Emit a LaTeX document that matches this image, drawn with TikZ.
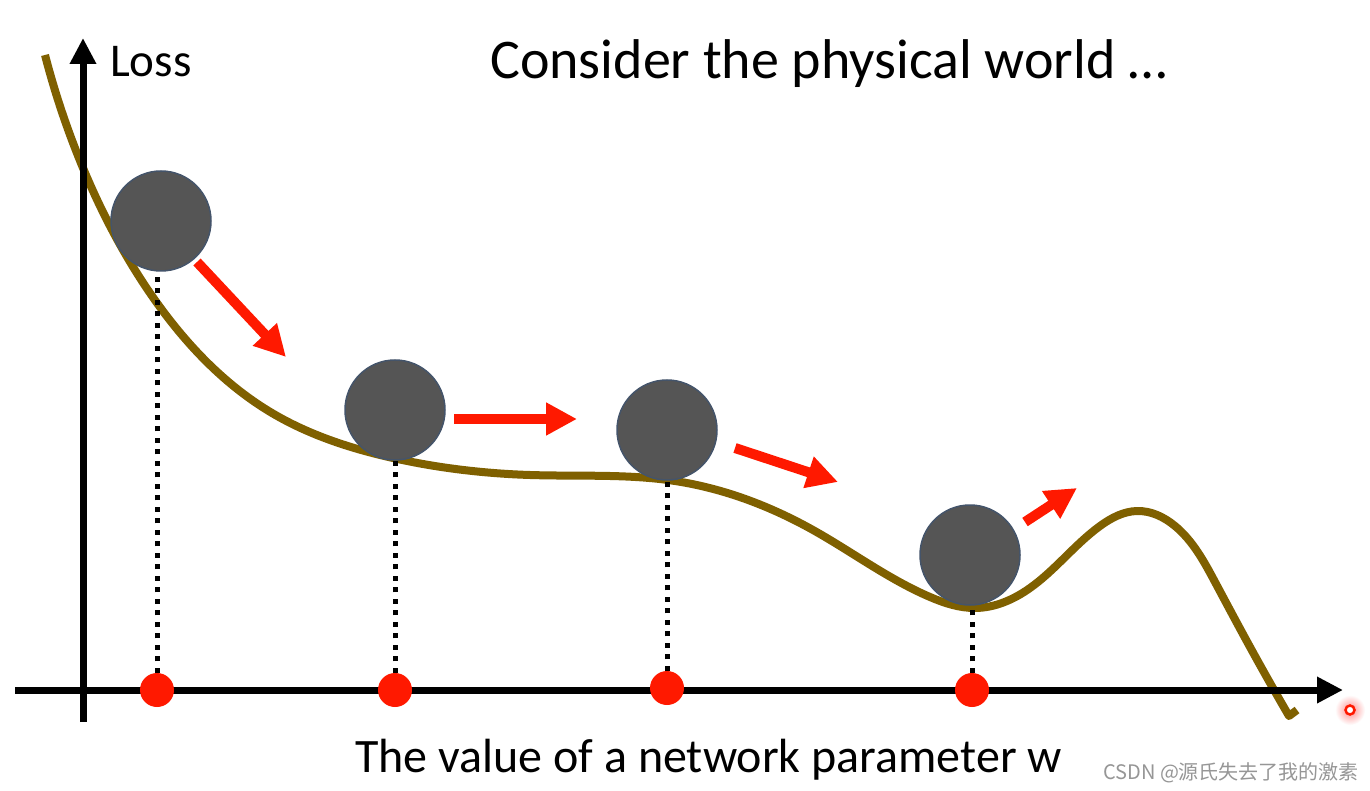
\documentclass[tikz,border=0pt]{standalone}
\usepackage{fontspec}
\setmainfont{Carlito}
\newfontfamily\cjk{Noto Sans CJK SC}
\usetikzlibrary{arrows.meta,hobby}
\definecolor{curvebrown}{RGB}{127,96,0}
\definecolor{arrowred}{RGB}{255,25,0}
\definecolor{ballfill}{RGB}{85,85,85}
\definecolor{ballline}{RGB}{68,84,106}
\definecolor{wmgray}{RGB}{150,150,150}
\tikzset{
  axisline/.style={line width=7pt, black, -{Triangle[length=26pt,width=25pt]}},
  lossline/.style={line width=8pt, curvebrown, line join=round},
  ball/.style={circle, fill=ballfill, draw=ballline, line width=1.5pt, minimum size=100pt, inner sep=0pt},
  reddot/.style={circle, fill=arrowred, minimum size=34pt, inner sep=0pt},
  dropline/.style={line width=5pt, black, dash pattern=on 5pt off 6.5pt},
  movearrow/.style={line width=10pt, arrowred, -{Triangle[length=31pt,width=31pt]}},
  bigtext/.style={anchor=base west, inner sep=0pt, font=\fontsize{47.5}{57}\selectfont},
}
\begin{document}
\begin{tikzpicture}[x=1pt,y=-1pt]
\useasboundingbox (0,0) rectangle (1370,791);
\fill[white] (0,0) rectangle (1370,791);
% loss curve
\draw[lossline, use Hobby shortcut] (45,55) .. (83,168) .. (157,303) .. (272,413) .. (393,458)
 .. (530,475) .. (675,481) .. (813,530) .. (930,597) .. (975,608) .. (1030,588)
 .. (1100,526) .. (1137,511) .. (1175,526) .. (1215,582) .. (1250,647) .. (1289,716) -- (1297,710);
% axes
\coordinate (ybot) at (83,722);
\coordinate (ytop) at (83,38);
\coordinate (xleft) at (15,690);
\coordinate (xright) at (1343,690);
\draw[axisline] (xleft) -- (xright);
\draw[axisline] (ybot) -- (ytop);
% balls
\node[ball] (b1) at (161,221) {};
\node[ball] (b2) at (395,410) {};
\node[ball] (b3) at (667,430) {};
\node[ball] (b4) at (970,555) {};
% dots on axis
\node[reddot] (d1) at (157,690) {};
\node[reddot] (d2) at (395,690) {};
\node[reddot] (d3) at (667,688) {};
\node[reddot] (d4) at (972,690) {};
% dotted drop lines
\draw[dropline] (d1.north) -- (d1.north |- b1.south);
\draw[dropline] (d2.north) -- (d2.north |- b2.south);
\draw[dropline] (d3.north) -- (d3.north |- b3.south);
\draw[dropline] (d4.north) -- (d4.north |- b4.south);
% motion arrows
\coordinate (a1s) at (197,262); \coordinate (a1e) at (286,357);
\coordinate (a2s) at (454,419); \coordinate (a2e) at (577,419);
\coordinate (a3s) at (735,448); \coordinate (a3e) at (838,482);
\coordinate (a4s) at (1025,522); \coordinate (a4e) at (1077,488);
\draw[movearrow] (a1s) -- (a1e);
\draw[movearrow] (a2s) -- (a2e);
\draw[movearrow] (a3s) -- (a3e);
\draw[movearrow] (a4s) -- (a4e);
% texts
\node[bigtext, font=\fontsize{47}{56}\selectfont] (loss) at (110,77) {Loss};
\node[bigtext, font=\fontsize{56}{66}\selectfont] (title) at (490,79) {Consider the physical world …};
\node[bigtext, font=\fontsize{48}{57}\selectfont] (xlabel) at (355,772) {The value of a network parameter w};
\node[anchor=base west, inner sep=0pt, text=wmgray, font=\cjk\fontsize{20}{24}\selectfont] (wm) at (1103,779) {CSDN @源氏失去了我的激素};
% cursor marker
\shade[inner color=red!45, outer color=white] (1350,710) circle (15);
\draw[arrowred, line width=2.5pt, fill=white] (1350,710) circle (4.5) coordinate (cursor);
\end{tikzpicture}
\end{document}
